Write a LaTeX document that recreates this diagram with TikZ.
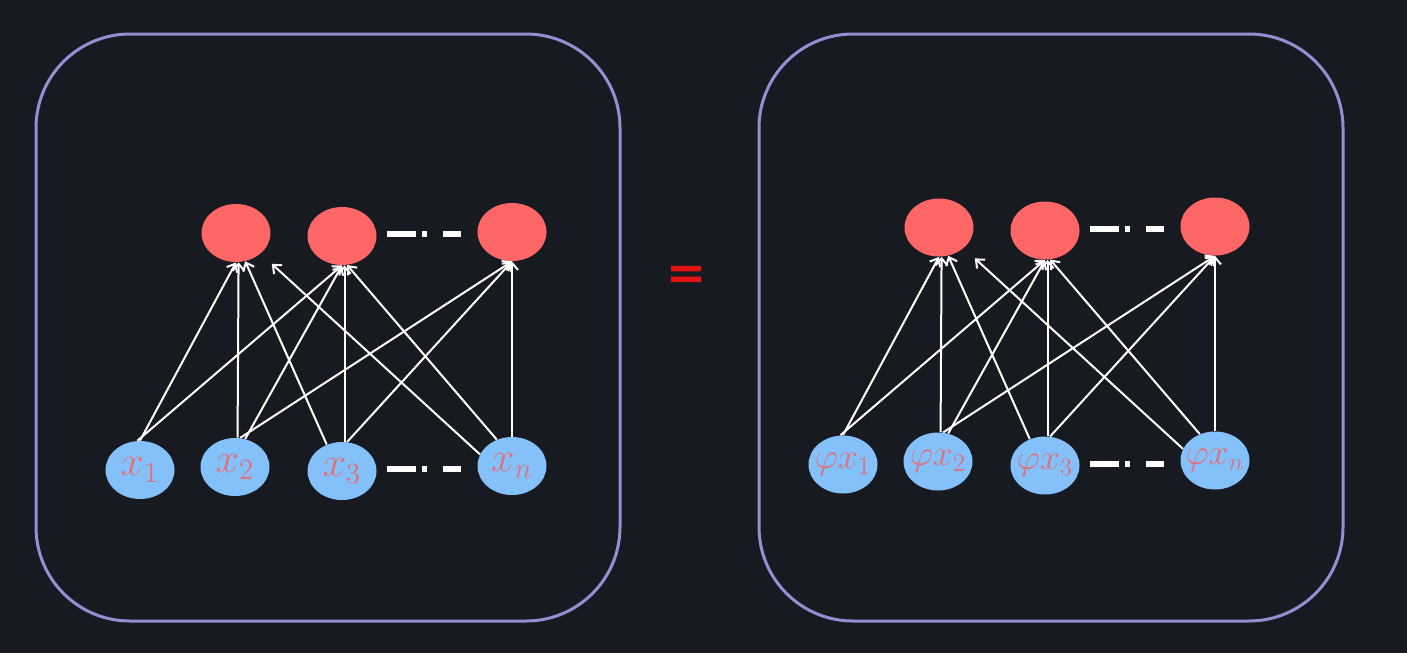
\RequirePackage{fix-cm}
\documentclass[tikz,border=0pt]{standalone}
\usepackage{fontspec}
\newfontfamily\eqfont{DejaVu Sans}
\usetikzlibrary{shapes.geometric,arrows.meta,calc}
\definecolor{bgc}{HTML}{181A21}
\definecolor{panelc}{HTML}{968ED2}
\definecolor{redn}{HTML}{FF6666}
\definecolor{bluen}{HTML}{84C1FA}
\definecolor{labc}{HTML}{E2707A}
\definecolor{eqc}{HTML}{E31414}
\tikzset{
  panel/.style={draw=panelc, line width=1.5pt, rounded corners=47pt},
  rnode/.style={ellipse, fill=redn, minimum width=34.5pt, minimum height=29pt, inner sep=0pt},
  bnode/.style={ellipse, fill=bluen, minimum width=34.5pt, minimum height=29pt, inner sep=0pt, text=labc},
  edge/.style={draw=white, line width=1pt, -{Straight Barb[length=3.5pt,width=6pt]}},
  dashln/.style={draw=white, line width=3pt, dash pattern=on 14.5pt off 3pt on 2.5pt off 8pt on 10pt},
  eqsign/.style={text=eqc, font=\eqfont\bfseries\fontsize{24}{28}\selectfont, inner sep=0pt}
}
\newcommand\nlab[1]{\makebox[0pt]{$#1$}}
\newcommand\drawnet[5]{%
\begin{scope}[shift={(#1,#2)}]
\node[rnode] (#3r1) at (236,233) {};
\node[rnode] (#3r2) at (342,236) {};
\node[rnode] (#3rn) at (512,232) {};
\node[bnode, font=\fontsize{#5}{#5}\selectfont] (#3x1) at (140,470) {\nlab{#4x_1}};
\node[bnode, font=\fontsize{#5}{#5}\selectfont] (#3x2) at (235,467) {\nlab{#4x_2}};
\node[bnode, font=\fontsize{#5}{#5}\selectfont] (#3x3) at (342,471) {\nlab{#4x_3}};
\node[bnode, font=\fontsize{#5}{#5}\selectfont] (#3xn) at (512,466) {\nlab{#4x_n}};
\draw[edge] (#3x1.north) -- (#3r1.south);
\draw[edge] (#3x1.95) -- (#3r2.south);
\draw[edge] (#3x2.85) -- (#3r1.-85);
\draw[edge] (#3x2.70) -- (#3r2.south);
\draw[edge] (#3x2.80) -- (#3rn.south);
\draw[edge] (#3x3.120) -- (#3r1.-72);
\draw[edge] (#3x3.85) -- (#3r2.-85);
\draw[edge] (#3x3.80) -- (#3rn.south);
\draw[edge, shorten >=7.5pt] (#3xn.160) -- (#3r1.-40);
\draw[edge] (#3xn.120) -- (#3r2.-80);
\draw[edge] (#3xn.north) -- (#3rn.south);
\draw[dashln, shorten <=5pt, shorten >=8pt] ([yshift=1pt]#3r2.east) -- ([yshift=1pt]#3r2.east -| #3rn.west);
\draw[dashln, shorten <=5pt, shorten >=8pt] ([yshift=1pt]#3x3.east) -- ([yshift=1pt]#3x3.east -| #3xn.west);
\end{scope}}
\begin{document}
\begin{tikzpicture}[x=0.5pt, y=-0.5pt]
\fill[bgc] (0,0) rectangle (1407,653);
\useasboundingbox (0,0) rectangle (1407,653);
\draw[panel] (36,34) rectangle (620,621);
\draw[panel] (759,34) rectangle (1343,621);
\drawnet{0}{0}{L}{}{21}
\drawnet{703}{-5.5}{R}{\varphi}{18}
\node[eqsign] (eq) at (687,278) {=};
\end{tikzpicture}
\end{document}
